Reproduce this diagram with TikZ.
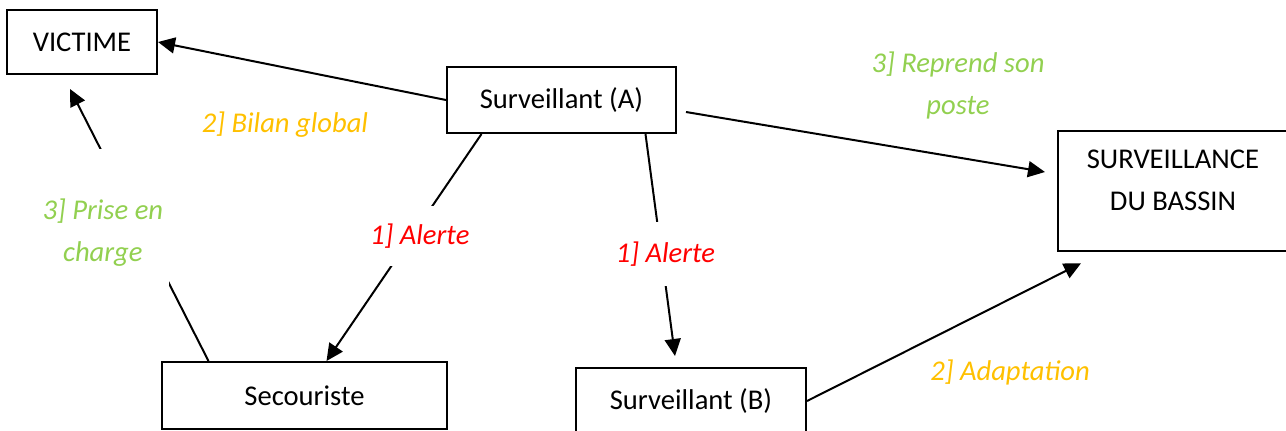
\documentclass[tikz,border=0pt]{standalone}
\usepackage{fontspec}
\setmainfont{Carlito}
\usepackage{xcolor}
\usepackage{tikz}
\usetikzlibrary{arrows.meta,positioning}
\definecolor{lblgreen}{HTML}{92D050}
\definecolor{lblorange}{HTML}{FFC000}

\begin{document}
\begin{tikzpicture}[
    x=0.5pt, y=-0.5pt,
    font=\fontsize{14.3pt}{21pt}\selectfont,
    >={Triangle[length=8.5pt,width=8pt]},
    box/.style={draw, line width=1pt, rectangle, inner sep=0pt, minimum height=33pt},
    lbl/.style={font=\fontsize{14.3pt}{21pt}\selectfont\itshape, align=center},
    gap/.style={lbl, fill=white, inner xsep=2pt},
    link/.style={line width=1pt}
]
    \useasboundingbox (0,0) rectangle (1286,430);

    \node[box, minimum width=75pt, minimum height=32pt] (victime) at (82,42) {VICTIME};
    \node[box, minimum width=114.5pt] (survA) at (561.5,100) {Surveillant (A)};
    \node[box, minimum width=115pt, minimum height=0pt, align=center, inner ysep=9.5pt, text depth=11pt] (bassin) at (1173,191) {SURVEILLANCE\\DU BASSIN};
    \node[box, minimum width=142.5pt, minimum height=33.5pt] (secouriste) at (304.5,395.5) {Secouriste};
    \node[box, minimum width=115pt] (survB) at (691,401) {Surveillant (B)};

    \draw[->, link] (survA.west) -- (victime.east);
    \draw[->, link] ([shift={(4.5pt,-6pt)}]survA.east) -- ([shift={(-6pt,9.5pt)}]bassin.west);
    \draw[->, link] ([xshift=-40pt]survA.south) -- node[gap, text=red, pos=0.45, xshift=4pt, inner ysep=9pt] (alerteS) {1] Alerte} ([xshift=11pt]secouriste.north);
    \draw[->, link] ([xshift=42pt]survA.south) -- node[gap, text=red, pos=0.54, xshift=2pt, inner ysep=10pt] (alerteB) {1] Alerte} ([shift={(-8pt,5.5pt)}]survB.north);
    \draw[->, link] ([xshift=-48pt]secouriste.north) -- node[gap, text=lblgreen, pos=0.474, xshift=-20pt, yshift=4.25pt, text height=40pt, inner ysep=16pt, inner xsep=3pt] (prise) {3] Prise en\\charge} ([shift={(-6pt,-7pt)}]victime.south);
    \draw[->, link] (survB.east) -- ([shift={(12pt,-5.5pt)}]bassin.south west);

    \node[lbl, text=lblgreen] (reprend) at (958,85) {3] Reprend son\\poste};
    \node[lbl, text=lblorange] (bilan) at (285,125) {2] Bilan global};
    \node[lbl, text=lblorange] (adaptation) at (1010,372) {2] Adaptation};
\end{tikzpicture}
\end{document}
